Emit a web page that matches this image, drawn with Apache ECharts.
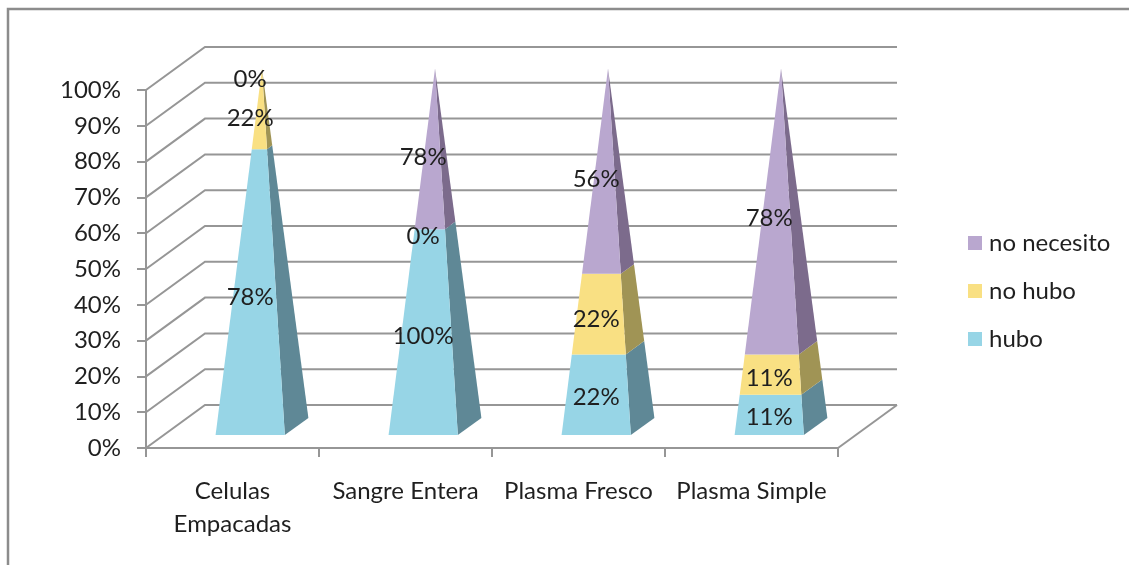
<!DOCTYPE html>
<html>
<head>
    <meta charset="utf-8">
    <script type="text/javascript" src="https://cdn.jsdelivr.net/npm/echarts@6/dist/echarts.min.js"></script>
</head>
<body style="margin: 0; background: #fff">
<div id="container" style="width: 1129px; height: 565px"></div>
<script type="text/javascript">
    var categories = ['Celulas\nEmpacadas', 'Sangre Entera', 'Plasma Fresco', 'Plasma Simple'];
    var hubo = [78, 100, 22, 11];
    var noHubo = [22, 0, 22, 11];
    var noNecesito = [0, 78, 56, 78];
    var gridValues = [0, 10, 20, 30, 40, 50, 60, 70, 80, 90, 100];

    var fontName = 'Lato';
    var fontSize = 24;
    var textColor = '#1f1f1f';
    var lineColor = '#969696';

    // 3d look of the excel chart: how far the back wall sits from the front
    var depthX = 59;
    var depthY = -43;
    var barHalf = 0.2;   // share of a category, gap width 150%
    var labelDepth = 0.3;

    function project(api, cat, val, dx, d) {
        var c = api.coord([cat, val]);
        var band = api.size([1, 0])[0];
        return [c[0] + dx * band + d * depthX, c[1] + d * depthY];
    }

    function renderWall(params, api) {
        var v = api.value(0);
        var last = categories.length - 1;
        var a = project(api, 0, v, -0.5, 0);
        var b = project(api, 0, v, -0.5, 1);
        var c = project(api, last, v, 0.5, 1);
        var children = [{
            type: 'polyline',
            shape: {points: [a, b, c]},
            style: {stroke: lineColor, lineWidth: 2, fill: null}
        }];
        if (v === 0) {
            children.push({
                type: 'line',
                shape: {
                    x1: c[0], y1: c[1],
                    x2: project(api, last, v, 0.5, 0)[0], y2: project(api, last, v, 0.5, 0)[1]
                },
                style: {stroke: lineColor, lineWidth: 2}
            });
        }
        return {type: 'group', children: children};
    }

    function makeRender(color, shade) {
        return function (params, api) {
            var cat = api.value(0);
            var from = api.value(1);
            var to = api.value(2);
            var raw = api.value(3);
            var children = [];
            if (to > from) {
                var s0 = 1 - from / 100;
                var s1 = 1 - to / 100;
                var fl0 = project(api, cat, from, -barHalf * s0, 0.5 - barHalf * s0);
                var fr0 = project(api, cat, from, barHalf * s0, 0.5 - barHalf * s0);
                var br0 = project(api, cat, from, barHalf * s0, 0.5 + barHalf * s0);
                var fl1 = project(api, cat, to, -barHalf * s1, 0.5 - barHalf * s1);
                var fr1 = project(api, cat, to, barHalf * s1, 0.5 - barHalf * s1);
                var br1 = project(api, cat, to, barHalf * s1, 0.5 + barHalf * s1);
                children.push({
                    type: 'polygon',
                    shape: {points: [fr0, br0, br1, fr1]},
                    style: {fill: shade}
                });
                children.push({
                    type: 'polygon',
                    shape: {points: [fl0, fr0, fr1, fl1]},
                    style: {fill: color}
                });
            }
            var pos = project(api, cat, (from + to) / 2, 0, labelDepth);
            children.push({
                type: 'text',
                z2: 50,
                style: {
                    text: raw + '%',
                    x: pos[0],
                    y: pos[1] + 2,
                    align: 'center',
                    verticalAlign: 'middle',
                    font: fontSize + 'px ' + fontName,
                    fill: textColor
                }
            });
            return {type: 'group', children: children};
        };
    }

    // 100% stacked: every column is scaled to its own total
    function stackRows(index) {
        var groups = [hubo, noHubo, noNecesito];
        return categories.map(function (name, i) {
            var total = hubo[i] + noHubo[i] + noNecesito[i];
            var start = 0;
            for (var k = 0; k < index; k++) {
                start += groups[k][i];
            }
            var end = start + groups[index][i];
            return [i, start / total * 100, end / total * 100, groups[index][i]];
        });
    }

    function pyramidSeries(name, index, color, shade) {
        return {
            name: name,
            type: 'custom',
            renderItem: makeRender(color, shade),
            data: stackRows(index),
            encode: {x: 0, y: 2},
            itemStyle: {color: color},
            z: 5,
            silent: true
        };
    }

    var dom = document.getElementById('container');
    var myChart = echarts.init(dom);
    var option = {
        animation: false,
        backgroundColor: '#fff',
        textStyle: {fontFamily: fontName},
        grid: {left: 146, top: 90, width: 692, height: 358},
        legend: {
            orient: 'vertical',
            left: 968,
            top: 231,
            padding: 0,
            itemWidth: 14,
            itemHeight: 14,
            itemGap: 24,
            icon: 'rect',
            data: ['no necesito', 'no hubo', 'hubo'],
            textStyle: {
                fontSize: fontSize, color: textColor, fontFamily: fontName,
                padding: [0, 0, 0, 2]
            }
        },
        xAxis: {
            type: 'category',
            data: categories,
            axisLine: {lineStyle: {color: lineColor, width: 2}},
            axisTick: {show: true, length: 9, lineStyle: {color: lineColor, width: 2}},
            axisLabel: {
                color: textColor, fontSize: fontSize, lineHeight: 33, margin: 27,
                fontFamily: fontName, interval: 0
            }
        },
        yAxis: {
            type: 'value',
            min: 0,
            max: 100,
            interval: 10,
            axisLine: {show: true, lineStyle: {color: lineColor, width: 2}},
            axisTick: {show: true, length: 9, lineStyle: {color: lineColor, width: 2}},
            splitLine: {show: false},
            axisLabel: {
                formatter: '{value}%', color: textColor, fontSize: fontSize, margin: 25,
                fontFamily: fontName, padding: [8, 0, 0, 0]
            }
        },
        graphic: [{
            type: 'rect',
            shape: {x: 8, y: 9, width: 1300, height: 800},
            style: {fill: null, stroke: '#8c8c8c', lineWidth: 2.5},
            silent: true
        }],
        series: [
            {
                type: 'custom',
                renderItem: renderWall,
                data: gridValues.map(function (v) { return [v]; }),
                encode: {y: 0},
                z: 1,
                silent: true
            },
            pyramidSeries('hubo', 0, '#97D5E6', '#5F8896'),
            pyramidSeries('no hubo', 1, '#F9E083', '#A09455'),
            pyramidSeries('no necesito', 2, '#B9A7CF', '#7C6B8C')
        ]
    };
    myChart.setOption(option);
</script>
</body>
</html>
